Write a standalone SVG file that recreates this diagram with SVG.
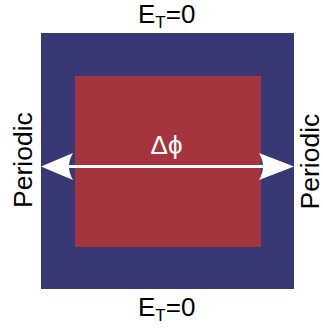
<svg xmlns="http://www.w3.org/2000/svg" width="323" height="329" viewBox="0 0 323 329">
  <style>
    .lbl { font-family: "Liberation Sans", Arial, sans-serif; font-size: 26px; fill: #000; }
    .side { font-family: "Liberation Sans", Arial, sans-serif; font-size: 26.5px; fill: #000; }
    .w { font-family: "Liberation Sans", Arial, sans-serif; font-size: 26px; fill: #fff; }
  </style>
  <rect width="323" height="329" fill="#fff"/>
  <g id="outer">
    <rect x="41" y="33" width="253" height="256" fill="#383874"/>
  </g>
  <g id="inner">
    <rect x="75" y="76" width="186" height="171" fill="#a6343f"/>
  </g>
  <g id="connectors">
    <line x1="68" y1="166.5" x2="263" y2="166.5" stroke="#fff" stroke-width="3"/>
    <path d="M41,166.5 L73,153 Q65,166.5 73,180 Z" fill="#fff"/>
    <path d="M294,166.5 L259,153 Q267,166.5 259,180 Z" fill="#fff"/>
  </g>
  <g id="top-label">
    <text class="lbl" x="138" y="23">E<tspan font-size="17" dy="5">T</tspan><tspan dy="-5">=0</tspan></text>
  </g>
  <g id="bottom-label">
    <text class="lbl" x="138" y="316">E<tspan font-size="17" dy="5">T</tspan><tspan dy="-5">=0</tspan></text>
  </g>
  <g id="left-label">
    <text class="side" text-anchor="middle" transform="translate(32,160) rotate(-90)">Periodic</text>
  </g>
  <g id="right-label">
    <text class="side" text-anchor="middle" transform="translate(318.5,161.5) rotate(-90)">Periodic</text>
  </g>
  <g id="delta-label">
    <text class="w" text-anchor="middle" x="166.5" y="154">Δϕ</text>
  </g>
</svg>
